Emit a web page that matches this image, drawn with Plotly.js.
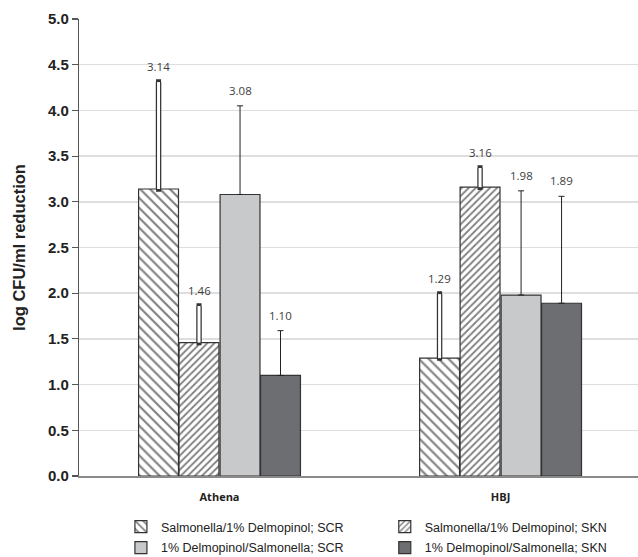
<!DOCTYPE html>
<html>
<head>
<meta charset="utf-8">
<script src="https://cdn.plot.ly/plotly-3.0.1.min.js"></script>
<style>html,body{margin:0;padding:0;background:#fff;}#chart{width:638px;height:557px;}</style>
</head>
<body>
<div id="chart"></div>
<script>
// ---- data ----
const categories = ["Athena", "HBJ"];
const seriesNames = [
  "Salmonella/1% Delmopinol; SCR",
  "Salmonella/1% Delmopinol; SKN",
  "1% Delmopinol/Salmonella; SCR",
  "1% Delmopinol/Salmonella; SKN"
];
const scrSalFirst = [3.14, 1.29];
const sknSalFirst = [1.46, 3.16];
const scrDelFirst = [3.08, 1.98];
const sknDelFirst = [1.10, 1.89];
const errScrSalFirst = [1.17, 0.70];
const errSknSalFirst = [0.40, 0.21];
const errScrDelFirst = [0.97, 1.14];
const errSknDelFirst = [0.49, 1.17];
const yTicks = [0, 0.5, 1, 1.5, 2, 2.5, 3, 3.5, 4, 4.5, 5];

// ---- styling ----
const values = [scrSalFirst, sknSalFirst, scrDelFirst, sknDelFirst];
const errors = [errScrSalFirst, errSknSalFirst, errScrDelFirst, errSknDelFirst];
const noMinus = [0, 0];
const barW = 0.142;
const centers = [-0.217, -0.073, 0.073, 0.217];
const lineCol = '#333';
const legendIds = ['legend', 'legend2', 'legend3', 'legend4'];
const styles = [
  {color: 'white', pattern: {shape: '\\', size: 7, solidity: 0.3, fgcolor: '#000', bgcolor: 'white', fillmode: 'overlay'}, hollow: true},
  {color: 'white', pattern: {shape: '/', size: 5, solidity: 0.36, fgcolor: '#000', bgcolor: 'white', fillmode: 'overlay'}, hollow: true},
  {color: '#c8c9cb', pattern: null, hollow: false},
  {color: '#6d6e71', pattern: null, hollow: false}
];

const traces = [];
values.forEach((vals, k) => {
  const st = styles[k];
  const marker = {color: st.color, line: {color: lineCol, width: 1.2}};
  if (st.pattern) marker.pattern = st.pattern;
  traces.push({
    type: 'bar', name: seriesNames[k], x: categories, y: vals,
    width: barW, offset: centers[k] - barW / 2,
    marker: marker, legend: legendIds[k],
    error_y: st.hollow
      ? {type: 'data', symmetric: false, array: errors[k], arrayminus: noMinus, visible: true, color: '#333', thickness: 5.5, width: 2.5}
      : {type: 'data', symmetric: false, array: errors[k], arrayminus: noMinus, visible: true, color: '#222', thickness: 1, width: 3},
    hoverinfo: 'y'
  });
  if (st.hollow) {
    traces.push({
      type: 'bar', x: categories, y: vals, width: barW, offset: centers[k] - barW / 2,
      marker: {color: 'rgba(0,0,0,0)', line: {width: 0}}, showlegend: false, hoverinfo: 'skip',
      error_y: {type: 'data', symmetric: false, array: errors[k], arrayminus: noMinus, visible: true, color: 'white', thickness: 3, width: 0}
    });
  }
});

const annotations = [];
values.forEach((vals, k) => {
  vals.forEach((v, i) => {
    annotations.push({
      x: i + centers[k], y: v + errors[k][i], xref: 'x', yref: 'y',
      text: v.toFixed(2), showarrow: false, yanchor: 'bottom', yshift: 6,
      font: {family: 'Open Sans, Noto Sans, sans-serif', size: 11.5, color: '#404040'}
    });
  });
});

const legendFont = {family: 'Liberation Sans, Arial, sans-serif', size: 12.5, color: '#222'};
function legendAt(x, y) {
  return {orientation: 'v', x: x, xanchor: 'left', y: y, yanchor: 'middle',
    itemwidth: 30, font: legendFont, bgcolor: 'rgba(0,0,0,0)', borderwidth: 0};
}

const layout = {
  width: 638, height: 557,
  margin: {l: 79, r: 0, t: 19, b: 81, autoexpand: false},
  paper_bgcolor: 'white', plot_bgcolor: 'white',
  barmode: 'overlay',
  showlegend: true,
  font: {family: 'Liberation Sans, Arial, sans-serif', color: '#222'},
  xaxis: {
    type: 'category', range: [-0.5, 1.489], fixedrange: true,
    showline: true, linecolor: '#8a8a8a', linewidth: 2, ticks: '', showgrid: false,
    tickfont: {family: 'Open Sans, Noto Sans, sans-serif', size: 11, weight: 'bold', color: '#222'},
    ticklabelstandoff: 10
  },
  yaxis: {
    range: [0, 5], tickvals: yTicks, tickformat: '.1f', fixedrange: true,
    showgrid: true, gridcolor: '#dedede', gridwidth: 1.5, zeroline: false,
    showline: true, linecolor: '#555', linewidth: 1.2,
    ticks: 'outside', ticklen: 6, tickcolor: '#555', tickwidth: 1.2,
    tickfont: {family: 'Liberation Sans, Arial, sans-serif', size: 15, weight: 'bold', color: '#222'},
    title: {text: 'log CFU/ml reduction', standoff: 18,
      font: {family: 'Liberation Sans, Arial, sans-serif', size: 16.5, weight: 'bold', color: '#222'}}
  },
  legend: legendAt(0.075, -0.1116),
  legend2: legendAt(0.547, -0.1116),
  legend3: legendAt(0.075, -0.1575),
  legend4: legendAt(0.547, -0.1575),
  annotations: annotations
};

Plotly.newPlot('chart', traces, layout, {displayModeBar: false, staticPlot: true});
</script>
</body>
</html>
